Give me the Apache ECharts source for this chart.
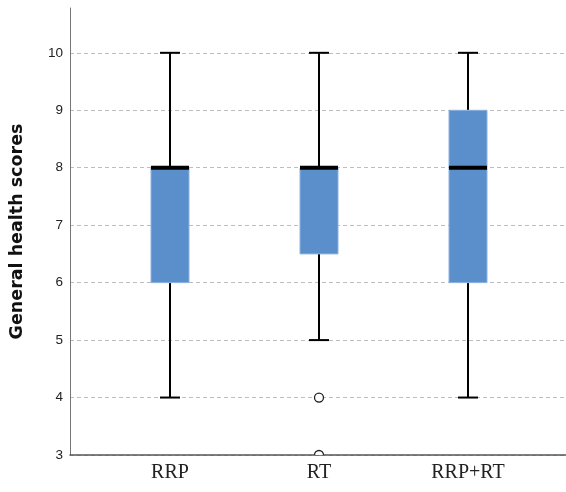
<!DOCTYPE html>
<html><head><meta charset="utf-8">
<script src="https://cdn.jsdelivr.net/npm/echarts@6/dist/echarts.min.js"></script>
<style>html,body{margin:0;padding:0;background:#fff}#c{width:566px;height:492px}</style>
</head><body><div id="c"></div>
<script>
const categories = ['RRP', 'RT', 'RRP+RT'];
const whiskerLow = [4, 5, 4];
const q1 = [6, 6.5, 6];
const median = [8, 8, 8];
const q3 = [8, 8, 9];
const whiskerHigh = [10, 10, 10];
const outliers = [[1, 4], [1, 3]];
const yTicks = [3, 4, 5, 6, 7, 8, 9, 10];
const yMin = 3, yMax = 10.78;

const chart = echarts.init(document.getElementById('c'));
const boxData = categories.map((c, i) => [i, whiskerLow[i], q1[i], median[i], q3[i], whiskerHigh[i]]);

chart.setOption({
  animation: false,
  backgroundColor: '#fff',
  grid: [
    {left: 70, right: 0, top: 8, bottom: 37},
    {left: 95.5, right: 23.5, top: 8, bottom: 37}
  ],
  xAxis: [
    {type: 'value', gridIndex: 0, min: 0, max: 1,
      axisLine: {show: true, onZero: false, lineStyle: {color: '#555', width: 1.5}},
      axisTick: {show: false}, axisLabel: {show: false}, splitLine: {show: false}},
    {type: 'category', gridIndex: 1, data: categories, boundaryGap: true,
      axisLine: {show: false}, axisTick: {show: false},
      axisLabel: {color: '#222', fontSize: 20, fontFamily: 'Liberation Serif, Times New Roman, serif', margin: 8}}
  ],
  yAxis: [
    {type: 'value', gridIndex: 0, min: yMin, max: yMax, interval: 1,
      name: 'General health scores', nameLocation: 'middle', nameGap: 44,
      nameTextStyle: {color: '#111', fontSize: 17.5, fontWeight: 'bold', fontFamily: 'DejaVu Sans, sans-serif'},
      axisLine: {show: true, onZero: false, lineStyle: {color: '#777', width: 1}},
      axisTick: {show: false},
      axisLabel: {color: '#222', fontSize: 13.5, fontFamily: 'Liberation Sans, Arial, sans-serif', margin: 7,
        formatter: v => yTicks.includes(v) ? String(v) : ''},
      splitLine: {show: true, lineStyle: {type: [4, 3], width: 1,
        color: yTicks.map(() => '#bdbdbd').concat(['rgba(0,0,0,0)'])}}},
    {type: 'value', gridIndex: 1, min: yMin, max: yMax, interval: 1, show: false,
      splitLine: {show: false}}
  ],
  series: [
    {
      type: 'custom', xAxisIndex: 1, yAxisIndex: 1, data: boxData,
      encode: {x: 0, y: [1, 2, 3, 4, 5]}, z: 5,
      renderItem: function (params, api) {
        const i = api.value(0);
        const lo = api.coord([i, api.value(1)]);
        const b1 = api.coord([i, api.value(2)]);
        const md = api.coord([i, api.value(3)]);
        const b3 = api.coord([i, api.value(4)]);
        const hi = api.coord([i, api.value(5)]);
        const x = Math.round(lo[0]);
        const bw = 38, cw = 20;
        const ws = {stroke: '#000', lineWidth: 2};
        return {type: 'group', children: [
          {type: 'line', shape: {x1: x, y1: hi[1], x2: x, y2: b3[1]}, style: ws},
          {type: 'line', shape: {x1: x, y1: b1[1], x2: x, y2: lo[1]}, style: ws},
          {type: 'line', shape: {x1: x - cw / 2, y1: hi[1], x2: x + cw / 2, y2: hi[1]}, style: ws},
          {type: 'line', shape: {x1: x - cw / 2, y1: lo[1], x2: x + cw / 2, y2: lo[1]}, style: ws},
          {type: 'rect', shape: {x: x - bw / 2, y: b3[1], width: bw, height: b1[1] - b3[1]},
            style: {fill: '#5B8FCB', stroke: '#8DB3E2', lineWidth: 1}},
          {type: 'line', shape: {x1: x - bw / 2, y1: md[1], x2: x + bw / 2, y2: md[1]},
            style: {stroke: '#000', lineWidth: 4}}
        ]};
      }
    },
    {
      type: 'custom', xAxisIndex: 1, yAxisIndex: 1, data: outliers, clip: true, z: 6,
      encode: {x: 0, y: 1},
      renderItem: function (params, api) {
        const p = api.coord([api.value(0), api.value(1)]);
        return {type: 'circle', shape: {cx: Math.round(p[0]), cy: p[1], r: 4.5},
          style: {fill: '#fff', stroke: '#222', lineWidth: 1.3}};
      }
    }
  ]
});
</script>
</body></html>
